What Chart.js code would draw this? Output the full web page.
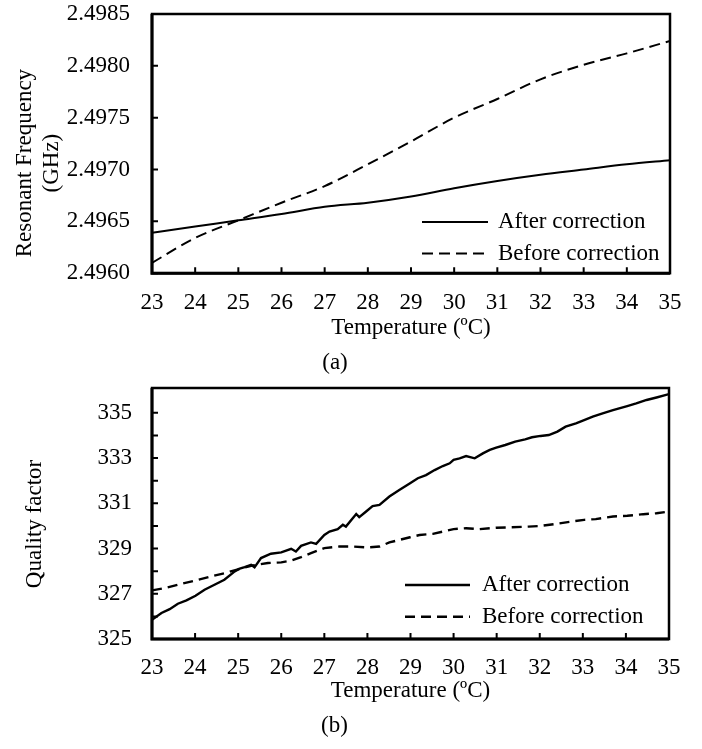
<!DOCTYPE html>
<html>
<head>
<meta charset="utf-8">
<script src="https://cdn.jsdelivr.net/npm/chart.js@4.4.1/dist/chart.umd.min.js"></script>
<style>
  html, body { margin: 0; padding: 0; background: #fff; }
  #wrap { position: relative; width: 702px; height: 749px; overflow: hidden; }
  canvas { position: absolute; left: 0; }
  #freqChart { top: 0; }
  #qChart { top: 375px; }
</style>
</head>
<body>
<div id="wrap">
  <canvas id="freqChart" width="702" height="380"></canvas>
  <canvas id="qChart" width="702" height="374"></canvas>
</div>
<script>
// shared x axis
const tempTicks = [23, 24, 25, 26, 27, 28, 29, 30, 31, 32, 33, 34, 35];
const xTitle = 'Temperature (ºC)';
const seriesNames = ['After correction', 'Before correction'];

// (a) resonant frequency, GHz
const freqTemps = [23, 24, 25, 26, 27, 28, 29, 30, 31, 32, 33, 34, 35];
const freqAfter = [2.49639, 2.49645, 2.49651, 2.49657, 2.49664, 2.49668, 2.49674, 2.49682, 2.49689, 2.49695, 2.49700, 2.49705, 2.49709];
const freqBefore = [2.49610, 2.49634, 2.49651, 2.49668, 2.49684, 2.49705, 2.49727, 2.49750, 2.49768, 2.49787, 2.49801, 2.49812, 2.49824];
const freqTicks = [2.4960, 2.4965, 2.4970, 2.4975, 2.4980, 2.4985];

// (b) quality factor
const qAfterTemps = [23.00, 23.22, 23.41, 23.60, 23.80, 24.01, 24.22, 24.45, 24.68, 24.92, 25.02, 25.15, 25.30, 25.38, 25.53, 25.76, 26.00, 26.23, 26.34, 26.46, 26.69, 26.81, 27.00, 27.12, 27.31, 27.43, 27.50, 27.74, 27.81, 27.97, 28.12, 28.28, 28.51, 28.74, 28.99, 29.17, 29.36, 29.56, 29.75, 29.91, 30.00, 30.14, 30.29, 30.49, 30.68, 30.84, 30.99, 31.20, 31.43, 31.66, 31.82, 32.02, 32.21, 32.41, 32.60, 32.84, 33.03, 33.23, 33.46, 33.70, 34.03, 34.24, 34.48, 34.71, 35.00];
const qAfter = [325.85, 326.15, 326.32, 326.56, 326.71, 326.91, 327.18, 327.40, 327.62, 327.99, 328.10, 328.18, 328.28, 328.17, 328.58, 328.77, 328.83, 328.99, 328.87, 329.12, 329.27, 329.21, 329.60, 329.75, 329.86, 330.05, 329.97, 330.53, 330.39, 330.64, 330.88, 330.93, 331.30, 331.59, 331.89, 332.11, 332.25, 332.47, 332.65, 332.77, 332.92, 332.99, 333.09, 332.99, 333.21, 333.36, 333.46, 333.58, 333.73, 333.83, 333.92, 333.98, 334.02, 334.17, 334.39, 334.54, 334.68, 334.83, 334.98, 335.12, 335.30, 335.42, 335.57, 335.68, 335.83];
const qBeforeTemps = [23.00, 23.29, 23.60, 24.01, 24.37, 24.68, 25.02, 25.30, 25.69, 26.00, 26.23, 26.46, 26.69, 27.00, 27.35, 27.66, 28.00, 28.28, 28.51, 28.74, 28.99, 29.21, 29.52, 29.75, 30.00, 30.29, 30.60, 30.99, 31.35, 31.74, 32.02, 32.37, 32.76, 33.03, 33.30, 33.70, 34.03, 34.40, 34.71, 35.00];
const qBefore = [327.15, 327.25, 327.40, 327.59, 327.77, 327.91, 328.09, 328.24, 328.36, 328.39, 328.47, 328.62, 328.80, 329.02, 329.09, 329.09, 329.05, 329.09, 329.27, 329.38, 329.50, 329.60, 329.65, 329.75, 329.86, 329.90, 329.86, 329.92, 329.94, 329.97, 330.00, 330.09, 330.20, 330.27, 330.30, 330.42, 330.45, 330.52, 330.56, 330.64];
const qTicks = [325, 326, 327, 328, 329, 330, 331, 332, 333, 334, 335];

const FONT = "'Liberation Serif', 'Times New Roman', serif";
const textFont = { family: FONT, size: 23, weight: 'normal' };
Chart.defaults.font.family = FONT;
Chart.defaults.font.size = 23;
Chart.defaults.color = '#000';

function pairs(xs, ys) {
  return xs.map((x, i) => ({ x: x, y: ys[i] }));
}

// box round the plot + short inward tick marks
const framePlugin = {
  id: 'frame',
  afterDatasetsDraw(chart) {
    const { ctx, chartArea: a, scales } = chart;
    ctx.save();
    ctx.strokeStyle = '#000';
    ctx.lineWidth = 2;
    ctx.beginPath();
    scales.x.ticks.forEach(t => {
      const px = scales.x.getPixelForValue(t.value);
      ctx.moveTo(px, a.bottom);
      ctx.lineTo(px, a.bottom - 6);
    });
    scales.y.ticks.forEach(t => {
      const py = scales.y.getPixelForValue(t.value);
      ctx.moveTo(a.left, py);
      ctx.lineTo(a.left + 6, py);
    });
    ctx.stroke();
    ctx.lineWidth = 2.5;
    ctx.strokeRect(a.left, a.top, a.right - a.left, a.bottom - a.top);
    // left and bottom axes are a little heavier in the original
    ctx.lineWidth = 3;
    ctx.beginPath();
    ctx.moveTo(a.left, a.top);
    ctx.lineTo(a.left, a.bottom);
    ctx.lineTo(a.right, a.bottom);
    ctx.stroke();
    ctx.restore();
  }
};

// legend drawn inside the plot, bottom right
const legendPlugin = {
  id: 'insideLegend',
  afterDraw(chart, args, opts) {
    const { ctx, chartArea: a } = chart;
    ctx.save();
    ctx.font = '23px ' + FONT;
    ctx.fillStyle = '#000';
    ctx.textBaseline = 'middle';
    chart.data.datasets.forEach((ds, i) => {
      const y = a.bottom - opts.rows[i];
      ctx.strokeStyle = ds.borderColor;
      ctx.lineWidth = ds.borderWidth;
      ctx.setLineDash(ds.borderDash || []);
      ctx.beginPath();
      ctx.moveTo(a.right - opts.lineStart, y);
      ctx.lineTo(a.right - opts.lineEnd, y);
      ctx.stroke();
      ctx.setLineDash([]);
      ctx.fillText(ds.label, a.right - opts.textStart, y);
    });
    ctx.restore();
  }
};

// rotated y-axis title (sits a bit below the plot's middle in the original)
const sideTitlePlugin = {
  id: 'sideTitle',
  afterDraw(chart, args, opts) {
    const { ctx, chartArea: a } = chart;
    const cy = (a.top + a.bottom) / 2 + opts.shift;
    ctx.save();
    ctx.font = '23px ' + FONT;
    ctx.fillStyle = '#000';
    ctx.textAlign = 'center';
    ctx.textBaseline = 'middle';
    opts.lines.forEach((line, i) => {
      ctx.save();
      ctx.translate(opts.xs[i], cy);
      ctx.rotate(-Math.PI / 2);
      ctx.fillText(line, 0, 0);
      ctx.restore();
    });
    ctx.restore();
  }
};

function buildOptions(o) {
  return {
    responsive: false,
    animation: false,
    events: [],
    layout: { padding: { top: o.padTop, right: o.padRight, bottom: o.padBottom, left: 0 } },
    plugins: {
      legend: { display: false },
      tooltip: { enabled: false },
      title: {
        display: true,
        position: 'bottom',
        text: o.panel,
        padding: 0,
        color: '#000',
        font: textFont
      },
      insideLegend: o.legend,
      sideTitle: o.side
    },
    scales: {
      x: {
        type: 'linear',
        min: 23,
        max: 35,
        afterBuildTicks: s => { s.ticks = tempTicks.map(v => ({ value: v })); },
        afterFit: s => { s.height = o.xHeight; s.paddingLeft = 0; s.paddingRight = 0; },
        grid: { display: false, drawTicks: false, tickLength: 0 },
        border: { display: false },
        ticks: { padding: o.xTickPad, maxRotation: 0, autoSkip: false, color: '#000', font: textFont },
        title: {
          display: true,
          text: xTitle,
          color: '#000',
          padding: { top: 0, bottom: o.xTitlePad },
          font: textFont
        }
      },
      y: {
        type: 'linear',
        min: o.yMin,
        max: o.yMax,
        afterBuildTicks: s => { s.ticks = o.yTicks.map(v => ({ value: v })); },
        afterFit: s => { s.width = 152; s.paddingTop = 0; s.paddingBottom = 0; },
        grid: { display: false, drawTicks: false, tickLength: 0 },
        border: { display: false },
        ticks: { padding: o.yTickPad, autoSkip: false, color: '#000', font: textFont, callback: o.yLabel }
      }
    }
  };
}

new Chart(document.getElementById('freqChart'), {
  type: 'line',
  data: {
    datasets: [{
      label: seriesNames[0],
      data: pairs(freqTemps, freqAfter),
      borderColor: '#000',
      borderWidth: 2,
      pointRadius: 0,
      cubicInterpolationMode: 'monotone',
      fill: false
    }, {
      label: seriesNames[1],
      data: pairs(freqTemps, freqBefore),
      borderColor: '#000',
      borderWidth: 2,
      borderDash: [11, 6],
      pointRadius: 0,
      cubicInterpolationMode: 'monotone',
      fill: false
    }]
  },
  options: buildOptions({
    panel: '(a)',
    padTop: 14, padRight: 32, padBottom: 3,
    xHeight: 76.2, xTickPad: 16, xTitlePad: 7.9,
    yMin: 2.496, yMax: 2.4985, yTicks: freqTicks, yTickPad: 22,
    yLabel: v => Number(v).toFixed(4),
    legend: { rows: [51.3, 19.7], lineStart: 248, lineEnd: 182, textStart: 172 },
    side: { lines: ['Resonant Frequency', '(GHz)'], xs: [25, 51.7], shift: 19.5 }
  }),
  plugins: [framePlugin, legendPlugin, sideTitlePlugin]
});

new Chart(document.getElementById('qChart'), {
  type: 'line',
  data: {
    datasets: [{
      label: seriesNames[0],
      data: pairs(qAfterTemps, qAfter),
      borderColor: '#000',
      borderWidth: 2.4,
      pointRadius: 0,
      tension: 0,
      fill: false
    }, {
      label: seriesNames[1],
      data: pairs(qBeforeTemps, qBefore),
      borderColor: '#000',
      borderWidth: 2.4,
      borderDash: [10, 6],
      pointRadius: 0,
      tension: 0,
      fill: false
    }]
  },
  options: buildOptions({
    panel: '(b)',
    padTop: 13, padRight: 33, padBottom: 9.5,
    xHeight: 72.9, xTickPad: 15, xTitlePad: 7.4,
    yMin: 325, yMax: 336.1, yTicks: qTicks, yTickPad: 20,
    yLabel: v => (v % 2 === 1 ? String(v) : ''),
    legend: { rows: [54, 22.3], lineStart: 264, lineEnd: 199, textStart: 187 },
    side: { lines: ['Quality factor'], xs: [35], shift: 10.5 }
  }),
  plugins: [framePlugin, legendPlugin, sideTitlePlugin]
});
</script>
</body>
</html>
